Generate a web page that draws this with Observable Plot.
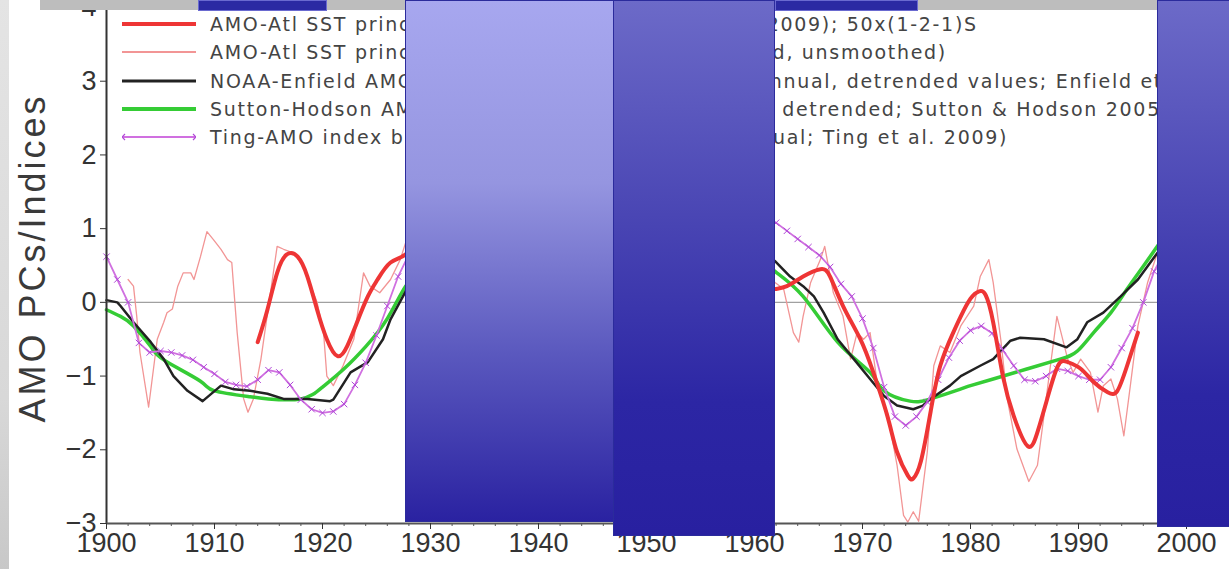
<!DOCTYPE html>
<html><head><meta charset="utf-8">
<script src="https://cdn.jsdelivr.net/npm/d3@7"></script>
<script src="https://cdn.jsdelivr.net/npm/@observablehq/plot@0.6"></script>
<style>
html,body{margin:0;padding:0;background:#fff;overflow:hidden;width:1229px;height:569px}
#wrap{position:relative;width:1229px;height:569px;background:#fff}
#chart{position:absolute;left:0;top:0}
#ytitle{position:absolute;left:33px;top:258px;transform:translate(-50%,-50%) rotate(-90deg);font:36px "Liberation Sans",sans-serif;letter-spacing:3px;color:#3a3a3a;white-space:nowrap}
#legend{position:absolute;left:122px;top:0;font:19px "DejaVu Sans",sans-serif;letter-spacing:1.7px;color:#444;white-space:nowrap}
.lrow{position:absolute;left:0;height:20px;display:flex;align-items:center}
.lrow svg{margin-right:14px}
.box{position:absolute;box-sizing:border-box;border:1.5px solid #2b2b9c}
.bar{position:absolute}
</style></head>
<body><div id="wrap"><div id="chart"></div><div id="ytitle"></div><div id="legend"></div></div>
<script>
// ---- data ----
// AMO-Atl SST PC, smoothed 50x(1-2-1)S (thick red)
const smoothYears = [1914.0,1914.9,1915.8,1916.7,1917.7,1918.6,1919.5,1920.4,1921.4,1922.3,1923.2,1924.2,1925.1,1926.3,1927.7,
  1929,1931,1933,1935,1937,1939,1941,1943,1945,1947,1949,1951,1953,1955,1957,1959,1961,
  1961.9,1963,1964.5,1966.1,1967,1968.2,1969.8,1971,1972.3,1973.2,1974.2,1974.7,1975.4,1976.3,1977.2,1978.4,1979.1,1980,1980.8,1981.4,
  1982.1,1983,1984,1985.3,1986.2,1987.1,1988.1,1989,1990.2,1991.4,1992.7,1993.6,1994.5,1995.5];
const smoothVals = [-0.54,-0.10,0.40,0.65,0.62,0.35,-0.10,-0.50,-0.73,-0.59,-0.27,0.08,0.31,0.54,0.65,
  0.70,0.30,0.60,0.90,0.50,0.80,1.00,0.60,0.90,0.50,0.80,1.00,0.70,0.90,0.60,0.40,0.20,
  0.18,0.22,0.35,0.45,0.35,-0.05,-0.50,-0.95,-1.54,-2.03,-2.35,-2.39,-2.16,-1.49,-0.86,-0.41,-0.19,0.05,0.15,0.10,
  -0.27,-1.00,-1.54,-1.95,-1.76,-1.31,-0.86,-0.81,-0.90,-1.08,-1.22,-1.20,-0.86,-0.41];

// AMO-Atl SST PC, unsmoothed (thin light red)
const rawYears = [1902,1902.5,1902.8,1903.1,1903.9,1904.7,1905.3,1905.6,1906.1,1906.6,1907.1,1907.8,1908.1,1908.7,1909.3,1909.9,1910.6,1911.2,1911.6,
  1912.1,1912.7,1913.1,1913.6,1914.3,1915.8,1916.4,1917.3,1918.2,1919.5,1920.1,1920.4,1921.0,1921.9,1922.9,1923.8,1924.4,1925.3,1926.3,1927.2,1927.7,
  1929,1930,1931,1932,1933,1934,1935,1936,1937,1938,1939,1940,1941,1942,1943,1944,1945,1946,1947,1948,1949,1950,1951,1952,1953,1954,1955,1956,1957,1958,1959,1960,1961,
  1961.9,1962.7,1963.6,1964.1,1964.5,1965.2,1966.1,1966.5,1967.3,1968.2,1968.9,1969.5,1970.1,1970.7,1971.4,1972.3,1973.2,1973.8,1974.2,1974.7,1975.2,1976.0,1976.6,
  1977.2,1978.1,1979.1,1980.3,1980.9,1981.7,1982.1,1982.8,1983.4,1984.3,1985.4,1986.2,1986.8,1987.4,1988.0,1989.0,1989.5,1990.2,1991.1,1991.8,1992.3,1993.0,1993.6,
  1994.2,1994.8,1995.5,1996.4,1997.3,1998];
const rawVals = [0.31,0.22,-0.19,-0.68,-1.42,-0.50,-0.27,-0.14,-0.09,0.22,0.40,0.40,0.31,0.62,0.96,0.85,0.72,0.58,0.54,
  -0.41,-1.31,-1.49,-1.31,-0.77,0.76,0.72,0.67,0.49,0.00,-0.41,-1.00,-1.13,-0.86,-0.50,0.40,0.22,0.13,0.31,0.58,0.81,
  1.00,0.40,0.00,0.60,0.90,0.30,1.20,0.80,0.20,0.70,1.10,0.50,1.30,0.60,0.20,0.90,1.10,0.40,0.30,0.80,1.20,0.60,1.00,1.30,0.70,0.50,1.00,0.60,0.80,0.30,0.60,0.10,0.40,
  0.27,0.18,-0.41,-0.54,-0.19,0.27,0.58,0.76,0.13,-0.19,-0.77,-0.41,-0.50,-0.41,-1.13,-1.49,-2.21,-2.89,-2.98,-2.84,-2.97,-2.03,-0.86,
  -0.59,-0.68,-0.32,-0.05,0.35,0.58,0.27,-0.50,-1.31,-1.99,-2.43,-2.21,-1.54,-0.86,-0.19,-0.77,-0.95,-0.77,-0.95,-1.49,-1.13,-1.04,-1.31,
  -1.81,-1.13,-0.32,0.27,0.67,0.90];

// NOAA-Enfield AMO index (black)
const enfieldYears = [1900,1901,1901.3,1902.5,1904.1,1905.3,1906.2,1907.5,1908.9,1910.6,1911.8,1913.3,1914.9,1916.4,1918.6,1920.7,1921,1922.6,1924.2,1925.6,1926.3,1927.7,
  1930,1933,1936,1939,1942,1945,1948,1951,1954,1957,1960,
  1961.9,1963.3,1964.5,1965.5,1966.4,1967.7,1969.2,1970.7,1972,1973.2,1974.7,1975.6,1976.3,1978.1,1979.1,1980.9,1982.1,1983.7,1984.6,1986.8,1988.9,1989.9,1990.8,1992.3,1993.9,1995.5,1997.3,1998];
const enfieldVals = [0.03,0.00,-0.05,-0.27,-0.54,-0.77,-1.00,-1.20,-1.34,-1.13,-1.18,-1.20,-1.24,-1.31,-1.31,-1.34,-1.32,-0.95,-0.81,-0.50,-0.23,0.15,
  0.60,0.70,0.90,1.00,1.00,1.10,1.00,1.20,1.10,1.00,0.80,
  0.56,0.35,0.22,0.08,-0.14,-0.50,-0.77,-1.04,-1.27,-1.40,-1.45,-1.40,-1.31,-1.13,-1.00,-0.86,-0.77,-0.52,-0.48,-0.50,-0.61,-0.50,-0.27,-0.14,0.08,0.31,0.67,0.80];

// Sutton-Hodson AMO index (green)
const suttonYears = [1900,1901.3,1902.5,1904.1,1905.5,1908.7,1910,1913.3,1915,1918,1920,1922,1924,1926,1927.7,
  1930,1935,1940,1945,1950,1955,1960,
  1961.9,1964.5,1967.7,1970.7,1972,1974.4,1976.3,1979,1980,1982.1,1985.3,1988.3,1989.9,1991.4,1993,1994.5,1996,1997.3,1998];
const suttonVals = [-0.10,-0.19,-0.32,-0.60,-0.80,-1.07,-1.20,-1.28,-1.31,-1.31,-1.15,-0.90,-0.60,-0.22,0.22,
  0.50,0.80,0.90,0.95,0.90,0.80,0.60,
  0.42,0.08,-0.54,-0.95,-1.20,-1.34,-1.31,-1.18,-1.13,-1.04,-0.90,-0.77,-0.66,-0.41,-0.14,0.18,0.49,0.76,0.90];

// Ting-AMO index (annual, magenta with x markers)
const tingYears = d3.range(1900, 1999);
const tingVals = [0.62,0.31,0.00,-0.55,-0.68,-0.66,-0.68,-0.72,-0.78,-0.88,-0.97,-1.08,-1.12,-1.14,-1.05,-0.92,-0.95,-1.12,-1.32,-1.45,
  -1.50,-1.48,-1.38,-1.12,-0.82,-0.45,-0.05,0.35,0.65,0.80,0.90,0.90,1.00,1.10,1.00,1.20,1.10,1.20,1.30,1.20,
  1.30,1.30,1.20,1.30,1.40,1.30,1.20,1.30,1.30,1.40,1.30,1.40,1.50,1.40,1.30,1.40,1.30,1.30,1.20,1.20,
  1.20,1.10,1.08,0.97,0.86,0.75,0.64,0.48,0.25,0.08,-0.22,-0.62,-1.15,-1.55,-1.67,-1.55,-1.35,-1.05,-0.75,-0.52,
  -0.38,-0.32,-0.42,-0.65,-0.86,-1.05,-1.07,-1.00,-0.90,-0.93,-1.00,-1.05,-1.05,-0.88,-0.62,-0.35,0.00,0.42,0.70];

const yTicks = [-3,-2,-1,0,1,2,3,4];
const xTicks = [1900,1910,1920,1930,1940,1950,1960,1970,1980,1990,2000];
const yTitle = "AMO PCs/Indices";
const legendLabels = [
  "AMO-Atl SST principal component (Guan & Nigam 2009); 50x(1-2-1)S",
  "AMO-Atl SST principal component (annual-averaged, unsmoothed)",
  "NOAA-Enfield AMO index (10-yr running mean of annual, detrended values; Enfield et al. 2001)",
  "Sutton-Hodson AMO index (10-yr low-pass filtered, detrended; Sutton & Hodson 2005)",
  "Ting-AMO index based on signal-to-noise EOF (annual; Ting et al. 2009)"
];

// ---- tables ----
const zip = (xs, ys) => xs.map((x, i) => ({year: x, value: ys[i]}));
const smooth = zip(smoothYears, smoothVals);
const raw = zip(rawYears, rawVals);
const enfield = zip(enfieldYears, enfieldVals);
const sutton = zip(suttonYears, suttonVals);
const ting = zip(tingYears, tingVals);

const C = {smooth: "#ee3535", raw: "#f29595", enfield: "#222222", sutton: "#35cc35", ting: "#d070e0", tingMark: "#b048d8"};
const intFmt = d => (d < 0 ? "\u2212" : "") + Math.abs(d);

const plot = Plot.plot({
  width: 1229, height: 569,
  marginLeft: 106, marginRight: 43, marginTop: 7, marginBottom: 46,
  x: {domain: [1900, 2000]},
  y: {domain: [-3, 4]},
  style: {fontFamily: "Liberation Sans, sans-serif", fontSize: "27px", color: "#333", background: "transparent", overflow: "visible"},
  marks: [
    Plot.ruleY([0], {stroke: "#a0a0a0", strokeWidth: 1.3}),
    Plot.line(raw, {x: "year", y: "value", stroke: C.raw, strokeWidth: 1.3}),
    Plot.line(sutton, {x: "year", y: "value", stroke: C.sutton, strokeWidth: 3.5, curve: "natural"}),
    Plot.line(enfield, {x: "year", y: "value", stroke: C.enfield, strokeWidth: 2.5}),
    Plot.line(ting, {x: "year", y: "value", stroke: C.ting, strokeWidth: 1.8}),
    Plot.dot(ting, {x: "year", y: "value", symbol: "times", r: 3, stroke: C.tingMark, strokeWidth: 1}),
    Plot.line(smooth, {x: "year", y: "value", stroke: C.smooth, strokeWidth: 4, curve: "natural"}),
    Plot.ruleX([1900], {stroke: "#333", strokeWidth: 2}),
    Plot.ruleY([-3], {stroke: "#555", strokeWidth: 2}),
    Plot.axisX(d3.range(1900, 2001, 2), {tickSize: 3, tickFormat: () => "", label: null, stroke: "#555"}),
    Plot.axisY({ticks: yTicks, tickSize: 6, tickPadding: 4, tickFormat: intFmt, label: null, stroke: "#333"}),
    Plot.axisX({ticks: xTicks, tickSize: 6, tickPadding: 3, tickFormat: "d", label: null, stroke: "#333"})
  ]
});
document.getElementById("chart").appendChild(plot);
document.getElementById("ytitle").textContent = yTitle;

// legend
const legendStyles = [
  {stroke: C.smooth, w: 4},
  {stroke: C.raw, w: 2},
  {stroke: C.enfield, w: 3},
  {stroke: C.sutton, w: 4},
  {stroke: C.ting, w: 2, mark: true}
];
const rowTops = [24, 52, 81, 109, 137];
const leg = document.getElementById("legend");
legendLabels.forEach((lab, i) => {
  const s = legendStyles[i];
  const row = document.createElement("div");
  row.className = "lrow";
  row.style.top = (rowTops[i] - 10) + "px";
  let svg = `<svg width="74" height="12"><line x1="0" x2="74" y1="6" y2="6" stroke="${s.stroke}" stroke-width="${s.w}"/>`;
  if (s.mark) svg += `<path d="M-3,3L3,9M-3,9L3,3M71,3L77,9M71,9L77,3" stroke="${C.tingMark}" stroke-width="1.2"/>`;
  svg += `</svg>`;
  row.innerHTML = svg + `<span>${lab}</span>`;
  leg.appendChild(row);
});

// slide overlay shapes (decorative reveal boxes)
const wrap = document.getElementById("wrap");
function add(cls, css) { const d = document.createElement("div"); d.className = cls; Object.assign(d.style, css); wrap.appendChild(d); }
add("bar", {left: "0px", top: "0px", width: "9px", height: "569px", background: "linear-gradient(#e4e4e4,#d8d8d8 70%,#c8c8c8)"});
add("bar", {left: "40px", top: "0px", width: "1117px", height: "10px", background: "#bdbdbd"});
add("bar", {left: "198px", top: "0px", width: "129px", height: "11px", background: "#2b2aa3", border: "1px solid #6a6ad0", boxSizing: "border-box"});
add("bar", {left: "775px", top: "0px", width: "143px", height: "11px", background: "#2b2aa3", border: "1px solid #6a6ad0", boxSizing: "border-box"});
add("box", {left: "405px", top: "0px", width: "209px", height: "522px", background: "linear-gradient(#a7a7ef 0%, #9595e0 35%, #5a58be 68%, #2a22a1 100%)"});
add("box", {left: "613px", top: "0px", width: "162px", height: "536px", background: "linear-gradient(#6c6ac8 0%, #4a46b4 40%, #2c26a4 75%, #2820a0 100%)"});
add("box", {left: "1157px", top: "0px", width: "80px", height: "527px", background: "linear-gradient(#6c6ac8 0%, #4a46b4 40%, #2c26a4 75%, #2820a0 100%)"});
</script></body></html>
